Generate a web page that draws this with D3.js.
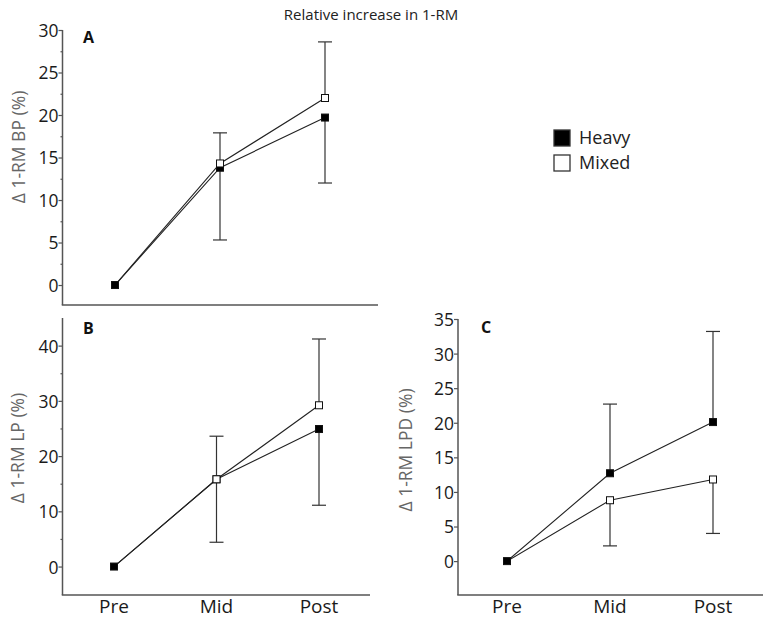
<!DOCTYPE html>
<html>
<head>
<meta charset="utf-8">
<script src="https://cdn.jsdelivr.net/npm/d3@7"></script>
<style>
  html, body { margin: 0; padding: 0; background: #fff; }
  svg { display: block; }
  text { font-family: "Open Sans", "DejaVu Sans", sans-serif; }
</style>
</head>
<body>
<svg id="chart" width="774" height="621"></svg>
<script>
// ---- data ----
const timepoints = ["Pre", "Mid", "Post"];
const seriesNames = ["Heavy", "Mixed"];

// Panel A: bench press
const bpHeavy = [0, 13.8, 19.7];
const bpMixed = [0, 14.3, 22.0];
const bpErrTop = [null, 17.9, 28.6];
const bpErrBottom = [null, 5.3, 12.0];
const bpTicks = [0, 5, 10, 15, 20, 25, 30];

// Panel B: leg press
const lpHeavy = [0, 15.8, 24.9];
const lpMixed = [0, 15.8, 29.2];
const lpErrTop = [null, 23.6, 41.2];
const lpErrBottom = [null, 4.4, 11.1];
const lpTicks = [0, 10, 20, 30, 40];

// Panel C: lat pull-down
const lpdHeavy = [0, 12.7, 20.1];
const lpdMixed = [0, 8.8, 11.8];
const lpdErrTop = [null, 22.7, 33.2];
const lpdErrBottom = [null, 2.2, 4.0];
const lpdTicks = [0, 5, 10, 15, 20, 25, 30, 35];

const svg = d3.select("#chart");
const axisColor = "#555";

const panels = [
  { letter: "A", ylabel: "\u0394 1-RM BP (%)", heavy: bpHeavy, mixed: bpMixed,
    errTop: bpErrTop, errBottom: bpErrBottom, ticks: bpTicks, minor: d3.range(2.5, 30, 5),
    yDomain: [-2.35, 30], yRange: [305, 30], axisX: 62.5, axisEnd: 378,
    xRange: [115, 325], showX: false, letterPos: [83, 43], labelPos: [19, 147] },
  { letter: "B", ylabel: "\u0394 1-RM LP (%)", heavy: lpHeavy, mixed: lpMixed,
    errTop: lpErrTop, errBottom: lpErrBottom, ticks: lpTicks, minor: [5, 15, 25, 35],
    yDomain: [-5.15, 45], yRange: [595, 318], axisX: 62.5, axisEnd: 370,
    xRange: [114, 319], showX: true, letterPos: [83, 334], labelPos: [18, 448] },
  { letter: "C", ylabel: "\u0394 1-RM LPD (%)", heavy: lpdHeavy, mixed: lpdMixed,
    errTop: lpdErrTop, errBottom: lpdErrBottom, ticks: lpdTicks, minor: [],
    yDomain: [-4.9, 35], yRange: [595, 319], axisX: 458, axisEnd: 763,
    xRange: [507, 713], showX: true, letterPos: [481, 333], labelPos: [406, 450] }
];

panels.forEach(p => {
  const y = d3.scaleLinear().domain(p.yDomain).range(p.yRange);
  const x = d3.scaleLinear().domain([0, timepoints.length - 1]).range(p.xRange);
  const g = svg.append("g");
  const bottom = p.yRange[0];

  // y axis
  const yAxis = d3.axisLeft(y).tickValues(p.ticks).tickSize(4).tickPadding(0).tickFormat(d3.format("d"));
  const ya = g.append("g").attr("transform", `translate(${p.axisX},0)`).call(yAxis);
  ya.select(".domain").attr("d", `M0,${p.yRange[1]}V${bottom}`).attr("stroke", axisColor).attr("stroke-width", 1.5);
  ya.selectAll(".tick line").attr("stroke", axisColor).attr("stroke-width", 1.2);
  ya.selectAll(".tick text").attr("fill", "#1a1a1a").style("font-size", "19px")
    .style("font-family", "'Open Sans', sans-serif").attr("dy", "0.34em")
    .attr("transform", "scale(0.92,1)").attr("x", -4 / 0.92);
  if (p.minor.length) {
    g.append("g").attr("transform", `translate(${p.axisX},0)`)
      .call(d3.axisLeft(y).tickValues(p.minor).tickSize(2).tickFormat(""))
      .call(s => s.select(".domain").remove())
      .selectAll(".tick line").attr("stroke", axisColor).attr("stroke-width", 1.2);
  }

  // x axis line
  g.append("line").attr("x1", p.axisX - 0.75).attr("x2", p.axisEnd)
    .attr("y1", bottom).attr("y2", bottom).attr("stroke", axisColor).attr("stroke-width", 1.5);
  if (p.showX) {
    g.selectAll(".xlab").data(timepoints).enter().append("text")
      .attr("x", (d, i) => x(i)).attr("y", bottom + 18)
      .attr("text-anchor", "middle").attr("fill", "#1a1a1a").style("font-size", "19px")
      .text(d => d);
  }

  // panel letter
  g.append("text").attr("x", p.letterPos[0]).attr("y", p.letterPos[1])
    .attr("fill", "#111").style("font-size", "16px").style("font-weight", "bold").text(p.letter);

  // y label
  g.append("text").attr("transform", `translate(${p.labelPos[0]},${p.labelPos[1]}) rotate(-90)`)
    .attr("text-anchor", "middle").attr("dy", "0.35em").attr("fill", "#666")
    .style("font-size", "17.5px").text(p.ylabel);

  // error bars
  const cap = 7;
  timepoints.forEach((t, i) => {
    if (p.errTop[i] == null) return;
    const hi = Math.max(p.heavy[i], p.mixed[i]);
    const lo = Math.min(p.heavy[i], p.mixed[i]);
    const segs = [[hi, p.errTop[i]], [lo, p.errBottom[i]]];
    segs.forEach(([a, b]) => {
      g.append("line").attr("x1", x(i)).attr("x2", x(i)).attr("y1", y(a)).attr("y2", y(b))
        .attr("stroke", "#333").attr("stroke-width", 1.2);
      g.append("line").attr("x1", x(i) - cap).attr("x2", x(i) + cap).attr("y1", y(b)).attr("y2", y(b))
        .attr("stroke", "#333").attr("stroke-width", 1.2);
    });
  });

  // lines & markers
  const line = d3.line().x((d, i) => x(i)).y(d => y(d));
  [p.heavy, p.mixed].forEach(vals => {
    g.append("path").datum(vals).attr("d", line).attr("fill", "none")
      .attr("stroke", "#222").attr("stroke-width", 1.1);
  });
  // heavy markers
  g.selectAll(null).data(p.heavy).enter().append("rect")
    .attr("x", (d, i) => x(i) - 3.5).attr("y", d => y(d) - 3.5)
    .attr("width", 7).attr("height", 7)
    .attr("fill", "#000").attr("stroke", "#111").attr("stroke-width", 1);
  // mixed markers (baseline shares the heavy marker)
  g.selectAll(null).data(p.mixed.map((v, i) => [i, v]).filter(d => d[0] > 0)).enter().append("rect")
    .attr("x", d => x(d[0]) - 3.5).attr("y", d => y(d[1]) - 3.5)
    .attr("width", 7).attr("height", 7)
    .attr("fill", "#fff").attr("stroke", "#111").attr("stroke-width", 1);
});

// title
svg.append("text").attr("x", 371).attr("y", 20).attr("text-anchor", "middle")
  .attr("fill", "#222").style("font-size", "15px").text("Relative increase in 1-RM");

// legend
const legendColors = ["#000", "#fff"];
const leg = svg.append("g");
seriesNames.forEach((n, i) => {
  leg.append("rect").attr("x", 554).attr("y", 130 + i * 25).attr("width", 16).attr("height", 16)
    .attr("fill", legendColors[i]).attr("stroke", "#333").attr("stroke-width", 1.3);
  leg.append("text").attr("x", 579).attr("y", 138 + i * 25).attr("dy", "0.35em")
    .attr("fill", "#222").style("font-size", "18px").text(n);
});
</script>
</body>
</html>
